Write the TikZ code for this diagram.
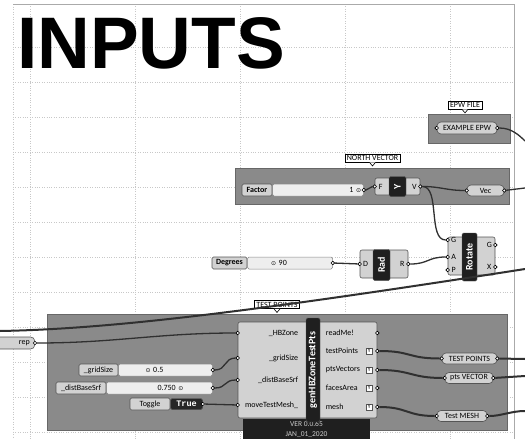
\documentclass[tikz,border=0pt]{standalone}
\usepackage{fontspec}
\setmainfont{Liberation Sans}
\newfontfamily\ghfont{Carlito}
\newfontfamily\ghsym{DejaVu Sans}
\newfontfamily\ghmono{Liberation Mono}
\usetikzlibrary{positioning, calc}
\definecolor{ghgrid}{RGB}{200,200,200}
\definecolor{ghframe}{RGB}{170,170,170}
\definecolor{ghgroup}{RGB}{138,138,138}
\definecolor{ghcomp}{RGB}{210,210,210}
\definecolor{ghtrack}{RGB}{238,238,238}
\definecolor{ghedge}{RGB}{85,85,85}
\definecolor{ghwire}{RGB}{48,48,48}

\begin{document}
\begin{tikzpicture}[x=1pt, y=-1pt, font=\ghfont\fontsize{8}{9}\selectfont,
    grp/.style={fill=ghgroup, draw=ghgroup!75!black, line width=0.5pt},
    comp/.style={fill=ghcomp, draw=ghedge, rounded corners=2pt, line width=0.6pt, inner sep=0pt},
    strip/.style={fill=black!88, draw=ghedge, rounded corners=1.5pt, text=white, rotate=90, inner sep=0pt,
      font=\ghfont\bfseries\fontsize{10}{10}\selectfont},
    capsule/.style={fill=ghcomp, draw=ghedge, rounded corners=4pt, line width=0.6pt, minimum height=12pt,
      inner xsep=4pt, inner ysep=0pt, font=\ghfont\fontsize{8}{8}\selectfont},
    tag/.style={draw=black, fill=white, line width=0.6pt, font=\ghfont\fontsize{8}{8}\selectfont,
      inner xsep=2pt, inner ysep=1.5pt},
    lbl/.style={fill=ghcomp, draw=ghedge, rounded corners=1.5pt, line width=0.6pt, minimum height=12pt,
      inner xsep=2pt, inner ysep=0pt},
    track/.style={fill=ghtrack, draw=ghedge!70, rounded corners=1.5pt, line width=0.5pt, minimum height=12pt,
      inner xsep=0pt, inner ysep=0pt, align=left},
    port/.style={circle, draw=black, fill=white, inner sep=0pt, minimum size=3.6pt, line width=0.6pt},
    flag/.style={draw=ghedge, fill=white, minimum size=6.5pt, inner sep=0pt, font=\ghfont\fontsize{5.5}{5.5}\selectfont},
    wire/.style={draw=ghwire, line width=1.3pt},
    listwire/.style={draw=ghwire, line width=2pt}]

  \useasboundingbox (0,0) rectangle (525,439);
  \fill[white] (0,0) rectangle (525,439);

  % canvas grid
  \foreach \y in {47,82,...,432}
    \draw[ghgrid, dotted, line width=0.4pt] (13,\y) -- (514,\y);
  \foreach \x in {30,135,240,345,450}
    \draw[ghgrid, dotted, line width=0.4pt] (\x,4) -- (\x,439);
  \draw[ghgrid, dotted, line width=0.5pt] (13,4) -- (13,439);
  \draw[ghframe, line width=1pt] (13,4) -- (514,4) -- (514,439);

  \node[anchor=base west, inner sep=0pt, font=\bfseries\fontsize{73}{73}\selectfont] (title) at (17,68) {INPUTS};

  % groups
  \node[grp, minimum width=82pt, minimum height=29pt] (gepw) at (469,128.5) {};
  \node[grp, minimum width=274pt, minimum height=36pt] (gnorth) at (372,186) {};
  \node[grp, minimum width=460pt, minimum height=116pt] (gtest) at (277,372) {};

  \foreach \n/\pos/\t in {tepw/{465,105}/EPW FILE, tnorth/{372.5,158}/NORTH VECTOR, ttest/{277,304.5}/TEST POINTS}
  {
    \node[tag] (\n) at (\pos) {\t};
    \draw[fill=white, line width=0.6pt] ($(\n.south)+(-3,0)$) -- ($(\n.south)+(0,3.5)$) -- ($(\n.south)+(3,0)$);
  }

  % components
  \node[capsule, minimum width=60pt] (epw) at (467,128) {EXAMPLE EPW};
  \node[port] (epwI) at (epw.west) {};
  \node[port] (epwO) at (epw.east) {};

  \node[lbl, minimum width=30pt, font=\ghfont\bfseries\fontsize{8}{8}\selectfont] (factor) at (257,190) {Factor};
  \node[track, minimum width=91pt, text width=86pt, align=right, right=0pt of factor] (factorS) {1 {\ghsym\fontsize{6}{6}\selectfont ⊙}};
  \node[port] (factorO) at (factorS.east) {};

  \node[comp, minimum width=45pt, minimum height=17pt] (unity) at (397.5,186.5) {};
  \node[strip, minimum width=20pt, minimum height=17pt] (unityS) at (unity) {Y};
  \node (unityFl) at ($(unity.west)+(6,0)$) {F};
  \node (unityVl) at ($(unity.east)+(-6,0)$) {V};
  \node[port] (unityF) at (unity.west) {};
  \node[port] (unityV) at (unity.east) {};

  \node[capsule, minimum width=37pt, minimum height=11pt] (vec) at (485.5,190.5) {Vec};
  \node[port] (vecI) at (vec.west) {};
  \node[port] (vecO) at (vec.east) {};

  \node[lbl, minimum width=35pt, font=\ghfont\bfseries\fontsize{8}{8}\selectfont] (deg) at (229.5,263) {Degrees};
  \node[track, minimum width=85pt, text width=80pt, right=0pt of deg] (degS) {\hspace*{21pt}{\ghsym\fontsize{6}{6}\selectfont ⊙} 90};
  \node[port] (degO) at (degS.east) {};

  \node[comp, minimum width=48pt, minimum height=28pt] (rad) at (384,264) {};
  \node[strip, minimum width=31pt, minimum height=17pt] (radS) at (381.5,265) {Rad};
  \node (radDl) at ($(rad.west)+(6,0)$) {D};
  \node (radRl) at ($(rad.east)+(-6,0)$) {R};
  \node[port] (radD) at (rad.west) {};
  \node[port] (radR) at (rad.east) {};

  \node[comp, minimum width=47pt, minimum height=38pt] (rot) at (471.5,256) {};
  \node[strip, minimum width=48pt, minimum height=15pt] (rotS) at (469.5,257) {Rotate};
  \foreach \n/\dy in {G/-16, A/1, P/14}
  {
    \node (rot\n l) at ($(rot.west)+(6,\dy)$) {\n};
    \node[port] (rot\n) at ($(rot.west)+(0,\dy)$) {};
  }
  \foreach \n/\dy in {G/-11, X/11}
  {
    \node (rot\n ol) at ($(rot.east)+(-6,\dy)$) {\n};
    \node[port] (rot\n o) at ($(rot.east)+(0,\dy)$) {};
  }

  \node[capsule, minimum width=50pt, minimum height=12pt, anchor=east, text width=40pt, align=right] (rep) at (35,343) {rep};
  \node[port] (repO) at (rep.east) {};

  \node[lbl, minimum width=39pt] (grid) at (98.5,370) {\_gridSize};
  \node[track, minimum width=94pt, text width=90pt, right=0pt of grid] (gridS) {\hspace*{25pt}{\ghsym\fontsize{6}{6}\selectfont ⊙} 0.5};
  \node[port] (gridO) at (gridS.east) {};

  \node[lbl, minimum width=50pt] (dist) at (81,388) {\_distBaseSrf};
  \node[track, minimum width=106pt, text width=102pt, right=0pt of dist] (distS) {\hspace*{49pt}0.750 {\ghsym\fontsize{6}{6}\selectfont ⊙}};
  \node[port] (distO) at (distS.east) {};

  \node[lbl, minimum width=40pt] (tgl) at (150,404) {Toggle};
  \node[fill=black!85, draw=ghedge, rounded corners=1.5pt, minimum width=32pt, minimum height=11pt, inner sep=0pt,
    text=white, font=\ghmono\bfseries\fontsize{8.5}{8.5}\selectfont, right=0pt of tgl] (tglV) {True};
  \node[port] (tglO) at (tglV.east) {};

  \node[fill=black!88, minimum width=127pt, minimum height=24pt, inner sep=0pt] (ver) at (306.5,431) {};
  \node[comp, minimum width=139pt, minimum height=96pt] (gen) at (307.5,370) {};
  \node[text=white!80!black, align=center, inner sep=0pt, font=\ghfont\fontsize{7.5}{10}\selectfont] (verT) at (306.5,429) {VER 0.0.65\\JAN\_01\_2020};
  \node[strip, minimum width=104pt, minimum height=14pt] (genS) at (313,370) {genHBZoneTestPts};
  \foreach \n/\dy/\t in {hb/-37/\_HBZone, grid/-12/\_gridSize, dist/10/\_distBaseSrf, move/35/moveTestMesh\_}
  {
    \node[anchor=east] (gen\n l) at ($(gen.west)+(64,\dy)$) {\t};
    \node[port] (gen\n) at ($(gen.west)+(0,\dy)$) {};
  }
  \foreach \n/\dy/\t/\f in {readme/-37/readMe!/0, pts/-19/testPoints/1, vec/0/ptsVectors/1, area/18/facesArea/1, mesh/37/mesh/1}
  {
    \node[anchor=west] (gen\n l) at ($(gen.east)+(-55,\dy)$) {\t};
    \ifnum\f=1 \node[flag] (gen\n f) at ($(gen.east)+(-8,\dy)$) {Y}; \fi
    \node[port] (gen\n) at ($(gen.east)+(0,\dy)$) {};
  }

  \node[capsule, minimum width=55pt, minimum height=11pt] (tp) at (469.5,358.5) {TEST POINTS};
  \node[capsule, minimum width=48pt, minimum height=11pt] (pv) at (469,378) {pts VECTOR};
  \node[capsule, minimum width=50pt, minimum height=11pt] (tm) at (462,416) {Test MESH};
  \foreach \n in {tp,pv,tm}
  {
    \node[port] (\n I) at (\n.west) {};
    \node[port] (\n O) at (\n.east) {};
  }

  % wires
  \coordinate (epwEnd) at (525,141);
  \coordinate (vecEnd) at (525,188);
  \coordinate (longA) at (0,331);
  \coordinate (longB) at (525,269);
  \coordinate (tpEnd) at (525,359);
  \coordinate (pvEnd) at (525,376);
  \coordinate (tmEnd) at (525,411);
  \draw[listwire] (longA) .. controls (110,329) and (250,312) .. (longB);
  \draw[wire] (epwO) .. controls +(14,0) and +(-6,-6) .. (epwEnd);
  \draw[wire] (factorO) .. controls +(6,0) and +(-6,0) .. (unityF);
  \draw[wire] (unityV) .. controls +(20,0) and +(-20,0) .. (vecI);
  \draw[wire] (vecO) -- (vecEnd);
  \draw[wire] (unityV) .. controls +(20,0) and +(-20,0) .. (rotG);
  \draw[wire] (degO) -- (radD);
  \draw[wire] (radR) .. controls +(20,0) and +(-20,0) .. (rotA);
  \draw[wire] (repO) .. controls +(80,0) and +(-80,0) .. (genhb);
  \draw[wire] (gridO) .. controls +(14,0) and +(-14,0) .. (gengrid);
  \draw[wire] (distO) .. controls +(14,0) and +(-14,0) .. (gendist);
  \draw[wire] (tglO) -- (genmove);
  \draw[listwire] (genpts) .. controls +(34,0) and +(-34,0) .. (tpI);
  \draw[listwire] (genvec) .. controls +(34,0) and +(-34,0) .. (pvI);
  \draw[listwire] (genmesh) .. controls +(30,0) and +(-30,0) .. (tmI);
  \draw[listwire] (tpO) -- (tpEnd);
  \draw[listwire] (pvO) -- (pvEnd);
  \draw[listwire] (tmO) .. controls +(14,0) and +(-14,0) .. (tmEnd);
\end{tikzpicture}
\end{document}
